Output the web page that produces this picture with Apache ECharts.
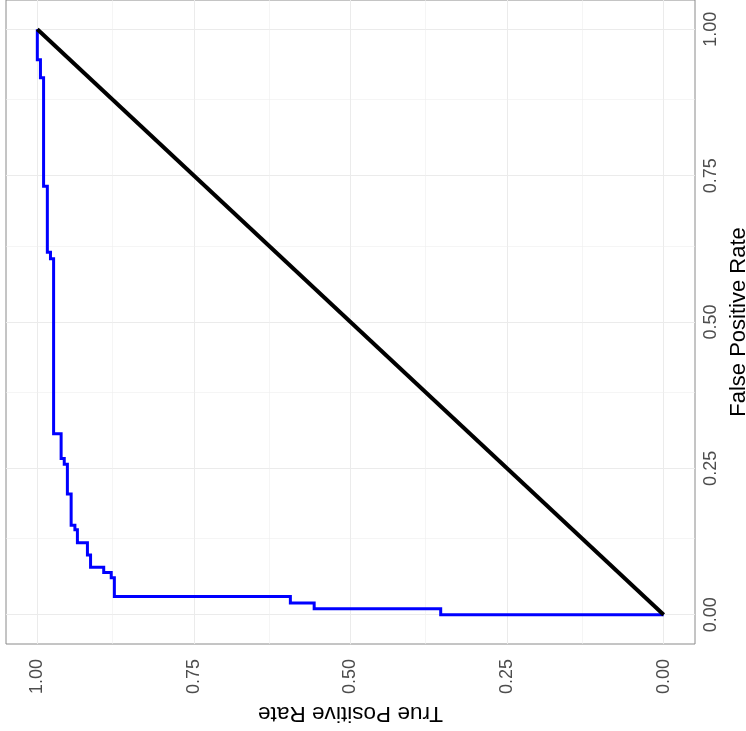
<!DOCTYPE html>
<html>
<head>
<meta charset="utf-8">
<script src="https://cdn.jsdelivr.net/npm/echarts@6/dist/echarts.min.js"></script>
<style>
  html, body { margin: 0; padding: 0; background: #ffffff; }
  #chart { width: 746px; height: 731px; }
</style>
</head>
<body>
<div id="chart"></div>
<script>
// ROC curve vertices (step path), true positive rate vs false positive rate
const rocTPR = [0, 0.356, 0.356, 0.558, 0.558, 0.596, 0.596, 0.877, 0.877, 0.882, 0.882, 0.894, 0.894, 0.915, 0.915, 0.920, 0.920, 0.936, 0.936, 0.940, 0.940, 0.946, 0.946, 0.952, 0.952, 0.957, 0.957, 0.962, 0.962, 0.974, 0.974, 0.979, 0.979, 0.984, 0.984, 0.990, 0.990, 0.995, 0.995, 1, 1];
const rocFPR = [0, 0, 0.010, 0.010, 0.020, 0.020, 0.031, 0.031, 0.063, 0.063, 0.072, 0.072, 0.081, 0.081, 0.102, 0.102, 0.123, 0.123, 0.145, 0.145, 0.153, 0.153, 0.206, 0.206, 0.257, 0.257, 0.267, 0.267, 0.309, 0.309, 0.608, 0.608, 0.619, 0.619, 0.732, 0.732, 0.917, 0.917, 0.948, 0.948, 1];

// Chance diagonal
const diagTPR = [0, 1];
const diagFPR = [0, 1];

// Axis breaks
const majorBreaks = [0, 0.25, 0.5, 0.75, 1];
const minorBreaks = [0.125, 0.375, 0.625, 0.875];
const tickLabels = ['0.00', '0.25', '0.50', '0.75', '1.00'];

const FONT = '"Liberation Sans", Arial, sans-serif';

const rocData = rocTPR.map((t, i) => [t, rocFPR[i]]);
const diagData = diagTPR.map((t, i) => [t, diagFPR[i]]);

const gridLines = [];
majorBreaks.forEach(v => {
  gridLines.push({ xAxis: v, lineStyle: { type: 'solid', width: 1, color: '#ebebeb' } });
  gridLines.push({ yAxis: v, lineStyle: { type: 'solid', width: 1, color: '#ebebeb' } });
});
minorBreaks.forEach(v => {
  gridLines.push({ xAxis: v, lineStyle: { type: 'solid', width: 0.6, color: '#eeeeee' } });
  gridLines.push({ yAxis: v, lineStyle: { type: 'solid', width: 0.6, color: '#eeeeee' } });
});

const labelFmt = v => {
  const i = majorBreaks.indexOf(v);
  return i >= 0 ? tickLabels[i] : '';
};

const chart = echarts.init(document.getElementById('chart'), null, { renderer: 'canvas' });
chart.setOption({
  animation: false,
  backgroundColor: '#ffffff',
  grid: {
    left: 6, right: 51, top: 0, bottom: 87,
    containLabel: false,
    outerBoundsMode: 'none',
    show: true, borderColor: '#8a8a8a', borderWidth: 1, backgroundColor: 'transparent'
  },
  xAxis: {
    type: 'value',
    inverse: true,
    min: -0.05, max: 1.05,
    name: 'True Positive Rate',
    nameLocation: 'middle',
    nameRotate: 180,
    nameGap: 53,
    nameTextStyle: { fontFamily: FONT, fontSize: 22.6, color: '#000000', lineHeight: 22 },
    axisLine: { show: false },
    axisTick: { show: true, inside: false, length: 4, customValues: majorBreaks, lineStyle: { color: '#333333', width: 1 } },
    axisLabel: { show: true, rotate: 90, margin: 15, customValues: majorBreaks, formatter: labelFmt,
      fontFamily: FONT, fontSize: 18, color: '#4d4d4d', lineHeight: 18 },
    splitLine: { show: false },
    minorSplitLine: { show: false }
  },
  yAxis: {
    type: 'value',
    position: 'right',
    min: -0.05, max: 1.05,
    name: 'False Positive Rate',
    nameLocation: 'middle',
    nameRotate: 90,
    nameGap: 28,
    nameTextStyle: { fontFamily: FONT, fontSize: 22, color: '#000000', lineHeight: 22 },
    axisLine: { show: false },
    axisTick: { show: true, inside: false, length: 4, customValues: majorBreaks, lineStyle: { color: '#333333', width: 1 } },
    axisLabel: { show: true, rotate: 90, margin: 7, customValues: majorBreaks, formatter: labelFmt,
      fontFamily: FONT, fontSize: 18, color: '#4d4d4d', lineHeight: 18 },
    splitLine: { show: false },
    minorSplitLine: { show: false }
  },
  series: [
    {
      name: 'panel-grid',
      type: 'line',
      data: [],
      z: 1,
      silent: true,
      markLine: {
        silent: true,
        z: 1,
        symbol: ['none', 'none'],
        label: { show: false },
        emphasis: { disabled: true },
        animation: false,
        data: gridLines
      }
    },
    {
      name: 'ROC',
      type: 'line',
      data: rocData,
      z: 3,
      showSymbol: false,
      symbol: 'none',
      clip: false,
      lineStyle: { color: '#0000ff', width: 3, join: 'miter', cap: 'butt' }
    },
    {
      name: 'Chance',
      type: 'line',
      data: diagData,
      z: 4,
      showSymbol: false,
      symbol: 'none',
      clip: false,
      lineStyle: { color: '#000000', width: 4, cap: 'butt' }
    }
  ]
});
</script>
</body>
</html>
